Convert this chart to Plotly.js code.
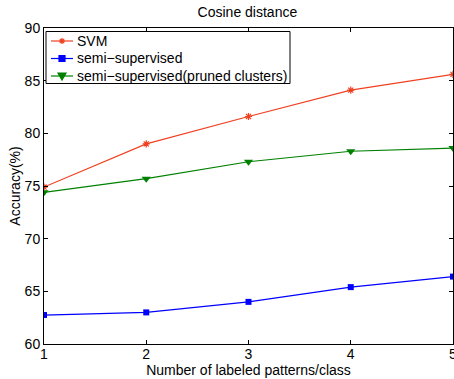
<!DOCTYPE html>
<html>
<head>
<meta charset="utf-8">
<script src="https://cdn.plot.ly/plotly-3.0.1.min.js"></script>
<style>html,body{margin:0;padding:0;background:#fff;}#chart{width:454px;height:379px;}</style>
</head>
<body>
<div id="chart"></div>
<script>
const xLabels = [1, 2, 3, 4, 5];
const svm = [74.9, 79.0, 81.6, 84.1, 85.6];
const semi = [62.75, 63.0, 64.0, 65.4, 66.4];
const semiPruned = [74.4, 75.7, 77.3, 78.3, 78.6];
const seriesNames = ['SVM', 'semi\u2212supervised', 'semi\u2212supervised(pruned clusters)'];
const seriesColors = ['#f04020', '#0000ff', '#008000'];

const font = 'Liberation Sans, Arial, Helvetica, sans-serif';
const traces = [
  {x: xLabels, y: svm, name: seriesNames[0], mode: 'lines+markers',
   line: {color: seriesColors[0], width: 1.2},
   marker: {symbol: 'asterisk-open', size: 6, color: seriesColors[0], line: {color: seriesColors[0], width: 1.2}}},
  {x: xLabels, y: semi, name: seriesNames[1], mode: 'lines+markers',
   line: {color: seriesColors[1], width: 1.2},
   marker: {symbol: 'square', size: 6, color: seriesColors[1]}},
  {x: xLabels, y: semiPruned, name: seriesNames[2], mode: 'lines+markers',
   line: {color: seriesColors[2], width: 1.2},
   marker: {symbol: 'triangle-down', size: 8, color: seriesColors[2]}}
];

// MATLAB-style compact legend built from shapes + annotations (paper coords of plot area)
const L = 44, W = 409, B = 344, H = 316;
const px = v => (v - L) / W;
const py = v => (B - v) / H;
const rowY = [41, 58.5, 76];
const shapes = [
  {type: 'rect', xref: 'paper', yref: 'paper', x0: px(46), x1: px(290), y0: py(83.5), y1: py(31.5),
   line: {color: '#000', width: 1}, fillcolor: '#fff', layer: 'above'}
];
const annotations = [];
const markerPaths = [
  'M -3 0 L 3 0 M 0 -3 L 0 3 M -2.2 -2.2 L 2.2 2.2 M -2.2 2.2 L 2.2 -2.2',
  'M -3 -3 L 3 -3 L 3 3 L -3 3 Z',
  'M -4 3 L 4 3 L 0 -4 Z'
];
seriesNames.forEach((name, i) => {
  const yy = py(rowY[i]);
  shapes.push({type: 'line', xref: 'paper', yref: 'paper', x0: px(51), x1: px(73), y0: yy, y1: yy,
    line: {color: seriesColors[i], width: 1.2}, layer: 'above'});
  shapes.push({type: 'path', xref: 'paper', yref: 'paper', xsizemode: 'pixel', ysizemode: 'pixel',
    xanchor: px(62), yanchor: yy, path: markerPaths[i],
    line: {color: seriesColors[i], width: 1.2}, fillcolor: i === 0 ? 'rgba(0,0,0,0)' : seriesColors[i], layer: 'above'});
  annotations.push({xref: 'paper', yref: 'paper', x: px(75), y: yy, xanchor: 'left', yanchor: 'middle',
    text: name, showarrow: false, font: {size: 14, family: font, color: '#000'}});
});

const layout = {
  width: 454, height: 379,
  margin: {l: 44, r: 1, t: 28, b: 35, pad: 0},
  paper_bgcolor: '#fff', plot_bgcolor: '#fff',
  font: {family: font, size: 14, color: '#000'},
  title: {text: 'Cosine distance', font: {size: 14, family: font}, x: 0.545, xanchor: 'center', y: 0.968, yanchor: 'middle'},
  xaxis: {
    range: [1, 5], tickvals: xLabels, ticktext: xLabels.map(String),
    ticks: 'inside', ticklen: 4, tickcolor: '#000', mirror: 'ticks',
    showline: true, linecolor: '#000', linewidth: 1, showgrid: false, zeroline: false,
    tickfont: {size: 14}, ticklabelstandoff: -3, ticklabeloverflow: 'allow',
    title: {text: 'Number of labeled patterns/class', font: {size: 14}, standoff: 0}
  },
  yaxis: {
    range: [60, 90], dtick: 5, tick0: 60,
    ticks: 'inside', ticklen: 4, tickcolor: '#000', mirror: 'ticks',
    showline: true, linecolor: '#000', linewidth: 1, showgrid: false, zeroline: false,
    tickfont: {size: 14}, ticklabelstandoff: 0,
    title: {text: 'Accuracy(%)', font: {size: 14}, standoff: 0}
  },
  shapes: shapes,
  annotations: annotations,
  showlegend: false
};
Plotly.newPlot('chart', traces, layout, {staticPlot: true, displayModeBar: false});
</script>
</body>
</html>
